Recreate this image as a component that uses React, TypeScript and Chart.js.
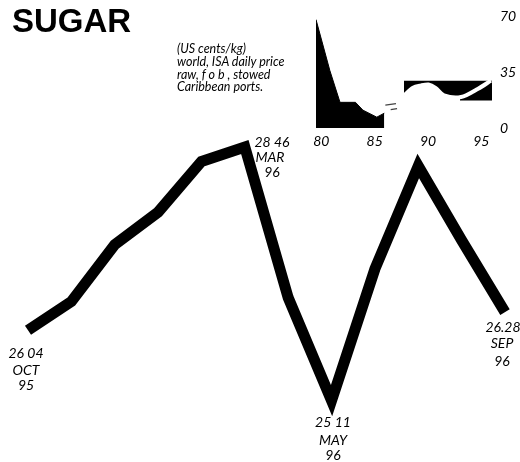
import React, { useEffect, useRef } from "react";
import { Chart, registerables } from "chart.js";

Chart.register(...registerables);

// ---- Main chart data (US cents/kg) ----
const months = ["OCT 95", "NOV 95", "DEC 95", "JAN 96", "FEB 96", "MAR 96", "APR 96", "MAY 96", "JUN 96", "JUL 96", "AUG 96", "SEP 96"];
const prices = [26.04, 26.42, 27.17, 27.6, 28.27, 28.46, 26.47, 25.11, 26.85, 28.21, 27.23, 26.28];

// ---- Inset (1980-95) data ----
const historyYears = [1979.5, 1980.8, 1981.75, 1983.2, 1983.9, 1985.2, 1985.9];
const historyPrices = [68, 36, 16.1, 16.1, 11.2, 6.8, 9.3];

const recentYears = [1987.75, 1988.6, 1989.3, 1990.05, 1990.7, 1991.5, 1993.1, 1994.7, 1995.9];
const recentPrices = [20.4, 25.2, 26.6, 27.3, 25.2, 20.4, 19.4, 24.6, 29.7];

const bandTopYears = [1987.75, 1996.0];
const bandTopPrices = [29.7, 29.7];
const bandBottomYears = [1987.75, 1988.6, 1989.3, 1990.05, 1990.7, 1991.5, 1993.0, 1993.05, 1996.0];
const bandBottomPrices = [20.4, 25.2, 26.6, 27.3, 25.2, 20.4, 19.4, 17.3, 17.3];

const gapAYears = [1986.0, 1987.0];
const gapAPrices = [14.3, 15.3];
const gapBYears = [1986.5, 1987.1];
const gapBPrices = [11.5, 12.2];

const insetXTicks = [1980, 1985, 1990, 1995];
const insetYTicks = [0, 35, 70];

const pts = (xs: number[], ys: number[]) => xs.map((x, i) => ({ x, y: ys[i] }));

const italicFont = "Lato, 'Open Sans', sans-serif";

type Label = { text: string; x: number; y: number };
const annotations: Label[] = [
  { text: "26 04", x: 26, y: 353 },
  { text: "OCT", x: 26, y: 370 },
  { text: "95", x: 26, y: 385 },
  { text: "28 46", x: 272, y: 142 },
  { text: "MAR", x: 270, y: 157 },
  { text: "96", x: 272, y: 172 },
  { text: "25 11", x: 333, y: 422 },
  { text: "MAY", x: 333, y: 440 },
  { text: "96", x: 333, y: 455 },
  { text: "26.28", x: 503, y: 327 },
  { text: "SEP", x: 502, y: 343 },
  { text: "96", x: 502, y: 361 },
];

export default function App() {
  const mainRef = useRef<HTMLCanvasElement | null>(null);
  const insetRef = useRef<HTMLCanvasElement | null>(null);

  useEffect(() => {
    document.body.style.margin = "0";
    const main = new Chart(mainRef.current as HTMLCanvasElement, {
      type: "line",
      data: {
        labels: months,
        datasets: [
          {
            data: prices,
            borderColor: "#000",
            borderWidth: 11,
            pointRadius: 0,
            tension: 0,
            borderJoinStyle: "miter",
            borderCapStyle: "butt",
            fill: false,
            clip: false as any,
          },
        ],
      },
      options: {
        responsive: false,
        animation: false,
        layout: { padding: { left: 28, right: 15, top: 144, bottom: 53 } },
        plugins: { legend: { display: false }, tooltip: { enabled: false } },
        scales: {
          x: { display: false, offset: false },
          y: { display: false, min: 25, max: 28.5 },
        },
      },
    });

    const tickFont = { family: italicFont, style: "italic" as const, size: 14 };
    const inset = new Chart(insetRef.current as HTMLCanvasElement, {
      type: "line",
      data: {
        datasets: [
          {
            data: pts(recentYears, recentPrices),
            borderColor: "#fff",
            borderWidth: 4,
            pointRadius: 0,
            tension: 0.3,
            fill: false,
            order: 0,
          },
          {
            data: pts(gapAYears, gapAPrices),
            borderColor: "#444",
            borderWidth: 1.3,
            pointRadius: 0,
            fill: false,
            order: 1,
          },
          {
            data: pts(bandTopYears, bandTopPrices),
            borderWidth: 0,
            borderColor: "rgba(0,0,0,0)",
            backgroundColor: "#000",
            pointRadius: 0,
            fill: 4,
            order: 2,
          },
          {
            data: pts(gapBYears, gapBPrices),
            borderColor: "#444",
            borderWidth: 1.3,
            pointRadius: 0,
            fill: false,
            order: 1,
          },
          {
            data: pts(bandBottomYears, bandBottomPrices),
            borderWidth: 0,
            borderColor: "rgba(0,0,0,0)",
            pointRadius: 0,
            fill: false,
            order: 3,
          },
          {
            data: pts(historyYears, historyPrices),
            borderColor: "#000",
            borderWidth: 1,
            backgroundColor: "#000",
            pointRadius: 0,
            tension: 0,
            fill: "origin",
            order: 4,
          },
        ],
      },
      options: {
        responsive: false,
        animation: false,
        layout: { padding: { left: 16, top: 15, right: 0, bottom: 0 } },
        plugins: { legend: { display: false }, tooltip: { enabled: false } },
        scales: {
          x: {
            type: "linear",
            position: "bottom",
            min: 1979.5,
            max: 1996,
            grid: { display: false, drawTicks: false },
            border: { display: false },
            afterBuildTicks: (s: any) => {
              s.ticks = insetXTicks.map((v) => ({ value: v }));
            },
            afterFit: (s: any) => {
              s.height = 32;
            },
            ticks: {
              padding: 5,
              color: "#000",
              font: tickFont,
              maxRotation: 0,
              autoSkip: false,
              callback: (v: any) => String(v).slice(2),
            },
          },
          y: {
            type: "linear",
            position: "right",
            min: 0,
            max: 70,
            grid: { display: false, drawTicks: false },
            border: { display: false },
            afterBuildTicks: (s: any) => {
              s.ticks = insetYTicks.map((v) => ({ value: v }));
            },
            afterFit: (s: any) => {
              s.width = 28;
            },
            ticks: {
              padding: 8,
              color: "#000",
              font: tickFont,
              autoSkip: false,
            },
          },
        },
      },
    });

    return () => {
      main.destroy();
      inset.destroy();
    };
  }, []);

  return (
    <div style={{ position: "relative", width: 520, height: 462, background: "#fff", overflow: "hidden" }}>
      <canvas ref={mainRef} width={520} height={462} style={{ position: "absolute", left: 0, top: 0 }} />
      <canvas ref={insetRef} width={220} height={160} style={{ position: "absolute", left: 300, top: 0 }} />
      <div
        style={{
          position: "absolute",
          left: 12,
          top: 4,
          fontFamily: "'Liberation Sans', Arial, sans-serif",
          fontWeight: 700,
          fontSize: 33,
          lineHeight: "33px",
          color: "#000",
          whiteSpace: "nowrap",
        }}
      >
        SUGAR
      </div>
      <div
        style={{
          position: "absolute",
          left: 177,
          top: 43,
          fontFamily: italicFont,
          fontStyle: "italic",
          fontSize: 12.5,
          lineHeight: "12.8px",
          color: "#000",
          whiteSpace: "nowrap",
        }}
      >
        (US cents/kg)
        <br />
        world, ISA daily price
        <br />
        raw, f o b , stowed
        <br />
        Caribbean ports.
      </div>
      {annotations.map((a, i) => (
        <div
          key={i}
          style={{
            position: "absolute",
            left: a.x,
            top: a.y,
            transform: "translate(-50%, -50%)",
            fontFamily: italicFont,
            fontStyle: "italic",
            fontSize: 14,
            lineHeight: "14px",
            color: "#000",
            whiteSpace: "nowrap",
          }}
        >
          {a.text}
        </div>
      ))}
    </div>
  );
}
